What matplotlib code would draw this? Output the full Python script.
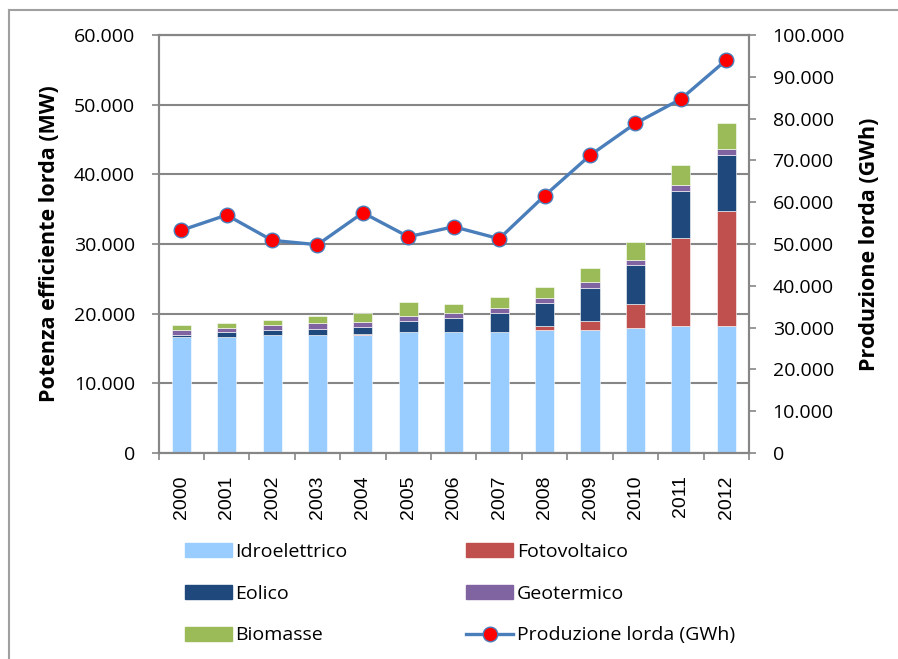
import numpy as np
import matplotlib
matplotlib.use("Agg")
import matplotlib.pyplot as plt
from matplotlib.ticker import FuncFormatter, MultipleLocator
from matplotlib.lines import Line2D
from matplotlib.patches import Patch

# Dati
anni = ["2000", "2001", "2002", "2003", "2004", "2005", "2006",
        "2007", "2008", "2009", "2010", "2011", "2012"]
idroelettrico = [16650, 16650, 16930, 16930, 16980, 17360, 17400,
                 17400, 17650, 17650, 17940, 18220, 18220]
fotovoltaico = [0, 0, 0, 0, 80, 0, 0, 0, 570, 1290, 3400, 12580, 16500]
eolico = [300, 720, 740, 940, 1000, 1560, 2000, 2730, 3350, 4800, 5640, 6840, 8080]
geotermico = [720, 560, 720, 720, 750, 760, 720, 690, 720, 800, 770, 900, 780]
biomasse = [720, 740, 770, 1050, 1240, 1950, 1200, 1580, 1530, 2010, 2540, 2730, 3820]
produzione = [53270, 56930, 50880, 49830, 57480, 51740, 54130,
              51260, 61550, 71210, 78860, 84680, 94010]

colori = {
    "Idroelettrico": "#99CCFF",
    "Fotovoltaico": "#C0504D",
    "Eolico": "#1F497D",
    "Geotermico": "#8064A2",
    "Biomasse": "#9BBB59",
}
grigio = "#868686"
blu_linea = "#4A7EBB"
font = ["Open Sans", "DejaVu Sans"]
plt.rcParams["font.family"] = font

def fmt_it(v, pos=None):
    return f"{int(round(v)):,}".replace(",", ".")

fig = plt.figure(figsize=(8.98, 6.59), dpi=100)
ax = fig.add_axes([158.5 / 898, 1 - 453 / 659, (749 - 158.5) / 898, (453 - 35) / 659])
ax2 = ax.twinx()

x = np.arange(len(anni))
serie = [("Idroelettrico", idroelettrico), ("Fotovoltaico", fotovoltaico),
         ("Eolico", eolico), ("Geotermico", geotermico), ("Biomasse", biomasse)]
base = np.zeros(len(anni))
for nome, valori in serie:
    ax.bar(x, valori, width=0.42, bottom=base, color=colori[nome],
           edgecolor="white", linewidth=0.4, zorder=2)
    base += np.array(valori)

ax2.plot(x, produzione, color=blu_linea, lw=2.4, marker="o", markersize=10.5,
         markerfacecolor="#FF0000", markeredgecolor=blu_linea, markeredgewidth=1.0,
         zorder=3)

ax.set_xlim(-0.5, len(anni) - 0.5)
ax.set_ylim(0, 60000)
ax2.set_ylim(0, 100000)
ax.yaxis.set_major_locator(MultipleLocator(10000))
ax2.yaxis.set_major_locator(MultipleLocator(10000))
ax.yaxis.set_major_formatter(FuncFormatter(fmt_it))
ax2.yaxis.set_major_formatter(FuncFormatter(fmt_it))

ax.set_axisbelow(True)
ax.grid(axis="y", color=grigio, lw=1.5, zorder=0)

ax.set_xticks(x)
ax.set_xticklabels(anni, rotation=90, family=["Liberation Sans", "DejaVu Sans"],
                   fontsize=14)
ax.set_xticks(np.arange(-0.5, len(anni)), minor=True)
ax.tick_params(axis="x", which="major", length=0, pad=16)
ax.tick_params(axis="x", which="minor", length=5, width=1.2, color=grigio)
ax.tick_params(axis="y", length=5, width=1.2, color=grigio, labelsize=14, pad=12)
ax2.tick_params(axis="y", length=5, width=1.2, color=grigio, labelsize=14, pad=12)

for a in (ax, ax2):
    for s in a.spines.values():
        s.set_color(grigio)
        s.set_linewidth(1.5)

ax.set_ylabel("Potenza efficiente lorda (MW)", fontsize=15.5, fontweight="bold",
              labelpad=10)
ax2.set_ylabel("Produzione lorda (GWh)", fontsize=15.5, fontweight="bold",
               labelpad=10)

# Legenda
h_idro = Patch(color=colori["Idroelettrico"])
h_foto = Patch(color=colori["Fotovoltaico"])
h_eol = Patch(color=colori["Eolico"])
h_geo = Patch(color=colori["Geotermico"])
h_bio = Patch(color=colori["Biomasse"])
h_prod = Line2D([], [], color=blu_linea, lw=2.4, marker="o", markersize=10.5,
                markerfacecolor="#FF0000", markeredgecolor=blu_linea)
fig.legend([h_idro, h_eol, h_bio, h_foto, h_geo, h_prod],
           ["Idroelettrico", "Eolico", "Biomasse", "Fotovoltaico", "Geotermico",
            "Produzione lorda (GWh)"],
           ncol=2, loc="upper left", bbox_to_anchor=(185 / 898, 1 - 543 / 659),
           frameon=False, fontsize=14, handlelength=2.4, handleheight=0.72,
           handletextpad=0.2, columnspacing=6.1, labelspacing=1.22,
           borderpad=0, borderaxespad=0)

# Cornice
fig.add_artist(Line2D([9 / 898, 9 / 898], [0, 1 - 10 / 659], color="#A0A0A0", lw=1.5))
fig.add_artist(Line2D([9 / 898, 1], [1 - 10 / 659, 1 - 10 / 659], color="#A0A0A0", lw=1.5))

fig.savefig("out.png", dpi=100)
